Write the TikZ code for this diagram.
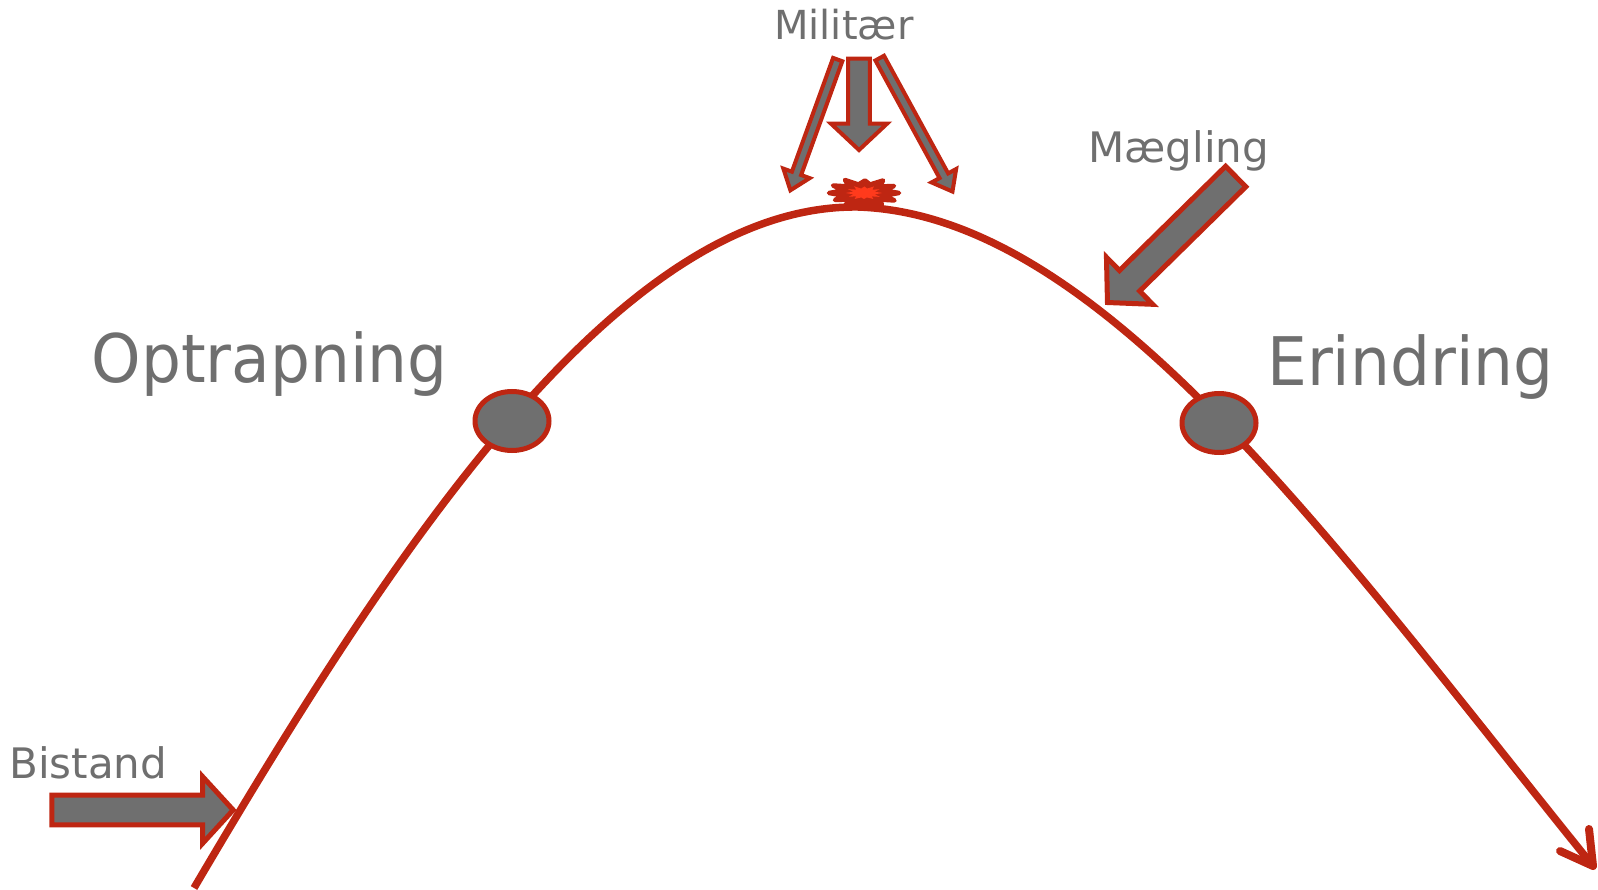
\documentclass[tikz,border=0pt]{standalone}
\usepackage{fontspec}
\usetikzlibrary{shapes.geometric}
\newfontfamily\smallf{DejaVu Sans}
\newfontfamily\bigf[FakeStretch=0.94]{DejaVu Sans}
\definecolor{rd}{RGB}{190,38,18}
\definecolor{gy}{RGB}{111,111,111}
\definecolor{org}{RGB}{255,58,28}
\tikzset{
  curve/.style={draw=rd, line width=7.5pt},
  dot/.style={ellipse, draw=rd, fill=gy, line width=5pt, minimum width=74pt, minimum height=59pt, inner sep=0pt},
  lbl/.style={text=gy, inner sep=0pt, anchor=base west},
  blk/.style={draw=rd, fill=gy, line join=miter},
}
% #1,#2 start; #3 angle; #4 length; #5 shaft half; #6 head half; #7 head length; #8 line width
\newcommand{\blockarr}[8]{%
  \begin{scope}[shift={(#1,#2)}, rotate=#3]
    \draw[blk, line width=#8] (0,-#5) -- ({#4-#7},-#5) -- ({#4-#7},-#6) -- (#4,0)
      -- ({#4-#7},#6) -- ({#4-#7},#5) -- (0,#5) -- cycle;
  \end{scope}}
\newcommand{\burstshape}{(35,0) -- (20.5,-2.5) -- (30,-7) -- (16,-6.5) -- (19,-12.5) -- (6,-8.5) -- (1,-12.5) -- (-5.5,-8.5) -- (-19,-13) -- (-15,-6.5) -- (-31,-7.5) -- (-20.5,-2.5) -- (-35,0) -- (-20.5,2.5) -- (-29,7) -- (-15,6.5) -- (-18,11.5) -- (-5.5,8.5) -- (0,11.5) -- (5.5,8.5) -- (18,11.5) -- (15,6.5) -- (30.5,7.5) -- (20.5,2.5) -- cycle}
\begin{document}
\begin{tikzpicture}[x=1pt, y=-1pt]
\useasboundingbox (0,0) rectangle (1598,890);

% labels
\node[lbl] (bistand) at (9,778) {\smallf\fontsize{42}{50}\selectfont Bistand};
\node[lbl] (militaer) at (774,40) {\smallf\fontsize{40}{48}\selectfont Militær};
\node[lbl] (maegling) at (1088,163) {\smallf\fontsize{42}{50}\selectfont Mægling};
\node[lbl] (optrap) at (91.5,383) {\bigf\fontsize{67}{80}\selectfont Optrapning};
\node[lbl] (erind) at (1267,385) {\bigf\fontsize{67}{80}\selectfont Erindring};

% block arrows
\blockarr{51.8}{810}{0}{181.4}{14.8}{33.5}{30.7}{5pt}
\blockarr{1235.7}{176.5}{-135.5}{179.8}{14.4}{33}{31}{5pt}
\blockarr{837.7}{59.6}{-109.9}{139}{4.9}{14}{18}{4pt}
\blockarr{879.7}{58.1}{-61.4}{152}{4.9}{14}{18}{4pt}
\blockarr{859}{58.7}{-90}{91.3}{10.9}{28}{26.3}{4pt}

% burst
\begin{scope}[shift={(864,193)}]
  \filldraw[draw=rd, fill=rd, line width=4.5pt, line join=round] \burstshape;
  \begin{scope}[scale=0.52]
    \fill[org] \burstshape;
  \end{scope}
\end{scope}

% main curve
\coordinate (start) at (194,888);
\coordinate (peak) at (858,207);
\coordinate (tip) at (1593,866);
\coordinate (barbA) at (1560,851);
\coordinate (barbB) at (1589,829);
\draw[curve] (start) .. controls (394,548) and (620,204) .. (peak)
  .. controls (1100,215) and (1330,540) .. (tip);
\draw[curve, line width=8pt, line cap=round, line join=round] (barbA) -- (tip) -- (barbB);

% phase dots
\node[dot] (e1) at (512,421) {};
\node[dot] (e2) at (1219,423) {};
\end{tikzpicture}
\end{document}
